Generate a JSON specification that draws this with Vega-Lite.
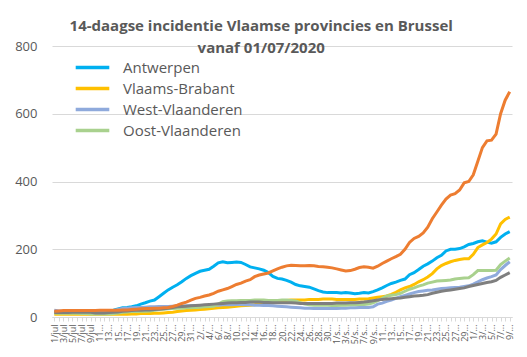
{
  "$schema": "https://vega.github.io/schema/vega-lite/v6.json",
  "width": 460,
  "height": 271,
  "autosize": {"type": "none"},
  "padding": {"left": 52, "top": 46, "right": 15, "bottom": 40},
  "background": "white",
  "title": {
    "text": ["14-daagse incidentie Vlaamse provincies en Brussel", "vanaf 01/07/2020"],
    "anchor": "middle",
    "frame": "bounds",
    "font": "Open Sans",
    "fontSize": 15,
    "fontWeight": "bold",
    "color": "#595959",
    "lineHeight": 22,
    "baseline": "alphabetic",
    "offset": -28,
    "dx": -4
  },
  "data": {
    "values": [
      {"d": "2020-07-01", "Antwerpen": 16, "Vlaams-Brabant": 8, "West-Vlaanderen": 20, "Oost-Vlaanderen": 12, "Limburg": 13, "Brussel": 17},
      {"d": "2020-07-02", "Antwerpen": 16, "Vlaams-Brabant": 8, "West-Vlaanderen": 18, "Oost-Vlaanderen": 11, "Limburg": 13, "Brussel": 18},
      {"d": "2020-07-03", "Antwerpen": 16, "Vlaams-Brabant": 8, "West-Vlaanderen": 16, "Oost-Vlaanderen": 11, "Limburg": 13, "Brussel": 19},
      {"d": "2020-07-04", "Antwerpen": 16, "Vlaams-Brabant": 8, "West-Vlaanderen": 15, "Oost-Vlaanderen": 11, "Limburg": 13, "Brussel": 19},
      {"d": "2020-07-05", "Antwerpen": 15, "Vlaams-Brabant": 8, "West-Vlaanderen": 15, "Oost-Vlaanderen": 11, "Limburg": 14, "Brussel": 19},
      {"d": "2020-07-06", "Antwerpen": 15, "Vlaams-Brabant": 8, "West-Vlaanderen": 15, "Oost-Vlaanderen": 11, "Limburg": 14, "Brussel": 19},
      {"d": "2020-07-07", "Antwerpen": 15, "Vlaams-Brabant": 8, "West-Vlaanderen": 15, "Oost-Vlaanderen": 10, "Limburg": 14, "Brussel": 19},
      {"d": "2020-07-08", "Antwerpen": 15, "Vlaams-Brabant": 8, "West-Vlaanderen": 15, "Oost-Vlaanderen": 10, "Limburg": 14, "Brussel": 19},
      {"d": "2020-07-09", "Antwerpen": 15, "Vlaams-Brabant": 8, "West-Vlaanderen": 15, "Oost-Vlaanderen": 9, "Limburg": 14, "Brussel": 19},
      {"d": "2020-07-10", "Antwerpen": 16, "Vlaams-Brabant": 8, "West-Vlaanderen": 16, "Oost-Vlaanderen": 9, "Limburg": 12, "Brussel": 19},
      {"d": "2020-07-11", "Antwerpen": 16, "Vlaams-Brabant": 8, "West-Vlaanderen": 16, "Oost-Vlaanderen": 9, "Limburg": 12, "Brussel": 20},
      {"d": "2020-07-12", "Antwerpen": 17, "Vlaams-Brabant": 8, "West-Vlaanderen": 16, "Oost-Vlaanderen": 9, "Limburg": 12, "Brussel": 20},
      {"d": "2020-07-13", "Antwerpen": 18, "Vlaams-Brabant": 8, "West-Vlaanderen": 17, "Oost-Vlaanderen": 9, "Limburg": 13, "Brussel": 20},
      {"d": "2020-07-14", "Antwerpen": 20, "Vlaams-Brabant": 8, "West-Vlaanderen": 18, "Oost-Vlaanderen": 10, "Limburg": 14, "Brussel": 20},
      {"d": "2020-07-15", "Antwerpen": 24, "Vlaams-Brabant": 8, "West-Vlaanderen": 22, "Oost-Vlaanderen": 12, "Limburg": 15, "Brussel": 20},
      {"d": "2020-07-16", "Antwerpen": 27, "Vlaams-Brabant": 8, "West-Vlaanderen": 25, "Oost-Vlaanderen": 14, "Limburg": 17, "Brussel": 21},
      {"d": "2020-07-17", "Antwerpen": 28, "Vlaams-Brabant": 8, "West-Vlaanderen": 26, "Oost-Vlaanderen": 15, "Limburg": 18, "Brussel": 21},
      {"d": "2020-07-18", "Antwerpen": 30, "Vlaams-Brabant": 9, "West-Vlaanderen": 27, "Oost-Vlaanderen": 16, "Limburg": 19, "Brussel": 22},
      {"d": "2020-07-19", "Antwerpen": 33, "Vlaams-Brabant": 9, "West-Vlaanderen": 28, "Oost-Vlaanderen": 16, "Limburg": 20, "Brussel": 23},
      {"d": "2020-07-20", "Antwerpen": 38, "Vlaams-Brabant": 10, "West-Vlaanderen": 28, "Oost-Vlaanderen": 17, "Limburg": 20, "Brussel": 24},
      {"d": "2020-07-21", "Antwerpen": 42, "Vlaams-Brabant": 10, "West-Vlaanderen": 29, "Oost-Vlaanderen": 17, "Limburg": 21, "Brussel": 25},
      {"d": "2020-07-22", "Antwerpen": 47, "Vlaams-Brabant": 10, "West-Vlaanderen": 30, "Oost-Vlaanderen": 18, "Limburg": 21, "Brussel": 25},
      {"d": "2020-07-23", "Antwerpen": 50, "Vlaams-Brabant": 11, "West-Vlaanderen": 30, "Oost-Vlaanderen": 20, "Limburg": 22, "Brussel": 26},
      {"d": "2020-07-24", "Antwerpen": 60, "Vlaams-Brabant": 11, "West-Vlaanderen": 31, "Oost-Vlaanderen": 22, "Limburg": 23, "Brussel": 26},
      {"d": "2020-07-25", "Antwerpen": 70, "Vlaams-Brabant": 12, "West-Vlaanderen": 31, "Oost-Vlaanderen": 23, "Limburg": 24, "Brussel": 27},
      {"d": "2020-07-26", "Antwerpen": 80, "Vlaams-Brabant": 13, "West-Vlaanderen": 31, "Oost-Vlaanderen": 24, "Limburg": 26, "Brussel": 28},
      {"d": "2020-07-27", "Antwerpen": 88, "Vlaams-Brabant": 14, "West-Vlaanderen": 32, "Oost-Vlaanderen": 25, "Limburg": 28, "Brussel": 31},
      {"d": "2020-07-28", "Antwerpen": 95, "Vlaams-Brabant": 16, "West-Vlaanderen": 32, "Oost-Vlaanderen": 26, "Limburg": 30, "Brussel": 35},
      {"d": "2020-07-29", "Antwerpen": 104, "Vlaams-Brabant": 18, "West-Vlaanderen": 32, "Oost-Vlaanderen": 26, "Limburg": 31, "Brussel": 40},
      {"d": "2020-07-30", "Antwerpen": 114, "Vlaams-Brabant": 19, "West-Vlaanderen": 33, "Oost-Vlaanderen": 27, "Limburg": 32, "Brussel": 44},
      {"d": "2020-07-31", "Antwerpen": 122, "Vlaams-Brabant": 20, "West-Vlaanderen": 33, "Oost-Vlaanderen": 27, "Limburg": 33, "Brussel": 50},
      {"d": "2020-08-01", "Antwerpen": 129, "Vlaams-Brabant": 21, "West-Vlaanderen": 33, "Oost-Vlaanderen": 28, "Limburg": 34, "Brussel": 55},
      {"d": "2020-08-02", "Antwerpen": 135, "Vlaams-Brabant": 22, "West-Vlaanderen": 34, "Oost-Vlaanderen": 29, "Limburg": 35, "Brussel": 58},
      {"d": "2020-08-03", "Antwerpen": 138, "Vlaams-Brabant": 23, "West-Vlaanderen": 34, "Oost-Vlaanderen": 30, "Limburg": 36, "Brussel": 62},
      {"d": "2020-08-04", "Antwerpen": 141, "Vlaams-Brabant": 24, "West-Vlaanderen": 34, "Oost-Vlaanderen": 31, "Limburg": 37, "Brussel": 65},
      {"d": "2020-08-05", "Antwerpen": 150, "Vlaams-Brabant": 26, "West-Vlaanderen": 35, "Oost-Vlaanderen": 32, "Limburg": 38, "Brussel": 70},
      {"d": "2020-08-06", "Antwerpen": 160, "Vlaams-Brabant": 27, "West-Vlaanderen": 35, "Oost-Vlaanderen": 38, "Limburg": 39, "Brussel": 76},
      {"d": "2020-08-07", "Antwerpen": 163, "Vlaams-Brabant": 28, "West-Vlaanderen": 36, "Oost-Vlaanderen": 45, "Limburg": 40, "Brussel": 80},
      {"d": "2020-08-08", "Antwerpen": 160, "Vlaams-Brabant": 29, "West-Vlaanderen": 36, "Oost-Vlaanderen": 47, "Limburg": 41, "Brussel": 84},
      {"d": "2020-08-09", "Antwerpen": 161, "Vlaams-Brabant": 30, "West-Vlaanderen": 36, "Oost-Vlaanderen": 48, "Limburg": 42, "Brussel": 90},
      {"d": "2020-08-10", "Antwerpen": 162, "Vlaams-Brabant": 32, "West-Vlaanderen": 37, "Oost-Vlaanderen": 48, "Limburg": 42, "Brussel": 96},
      {"d": "2020-08-11", "Antwerpen": 161, "Vlaams-Brabant": 33, "West-Vlaanderen": 37, "Oost-Vlaanderen": 49, "Limburg": 43, "Brussel": 100},
      {"d": "2020-08-12", "Antwerpen": 155, "Vlaams-Brabant": 34, "West-Vlaanderen": 36, "Oost-Vlaanderen": 49, "Limburg": 43, "Brussel": 106},
      {"d": "2020-08-13", "Antwerpen": 148, "Vlaams-Brabant": 35, "West-Vlaanderen": 36, "Oost-Vlaanderen": 49, "Limburg": 44, "Brussel": 110},
      {"d": "2020-08-14", "Antwerpen": 145, "Vlaams-Brabant": 36, "West-Vlaanderen": 35, "Oost-Vlaanderen": 50, "Limburg": 44, "Brussel": 119},
      {"d": "2020-08-15", "Antwerpen": 142, "Vlaams-Brabant": 40, "West-Vlaanderen": 35, "Oost-Vlaanderen": 50, "Limburg": 44, "Brussel": 124},
      {"d": "2020-08-16", "Antwerpen": 138, "Vlaams-Brabant": 45, "West-Vlaanderen": 34, "Oost-Vlaanderen": 50, "Limburg": 43, "Brussel": 127},
      {"d": "2020-08-17", "Antwerpen": 131, "Vlaams-Brabant": 48, "West-Vlaanderen": 34, "Oost-Vlaanderen": 49, "Limburg": 43, "Brussel": 130},
      {"d": "2020-08-18", "Antwerpen": 120, "Vlaams-Brabant": 48, "West-Vlaanderen": 33, "Oost-Vlaanderen": 49, "Limburg": 42, "Brussel": 136},
      {"d": "2020-08-19", "Antwerpen": 114, "Vlaams-Brabant": 48, "West-Vlaanderen": 32, "Oost-Vlaanderen": 49, "Limburg": 42, "Brussel": 142},
      {"d": "2020-08-20", "Antwerpen": 112, "Vlaams-Brabant": 49, "West-Vlaanderen": 31, "Oost-Vlaanderen": 50, "Limburg": 42, "Brussel": 147},
      {"d": "2020-08-21", "Antwerpen": 108, "Vlaams-Brabant": 49, "West-Vlaanderen": 30, "Oost-Vlaanderen": 50, "Limburg": 42, "Brussel": 151},
      {"d": "2020-08-22", "Antwerpen": 103, "Vlaams-Brabant": 50, "West-Vlaanderen": 29, "Oost-Vlaanderen": 49, "Limburg": 42, "Brussel": 153},
      {"d": "2020-08-23", "Antwerpen": 96, "Vlaams-Brabant": 50, "West-Vlaanderen": 28, "Oost-Vlaanderen": 47, "Limburg": 41, "Brussel": 152},
      {"d": "2020-08-24", "Antwerpen": 92, "Vlaams-Brabant": 50, "West-Vlaanderen": 27, "Oost-Vlaanderen": 42, "Limburg": 40, "Brussel": 151},
      {"d": "2020-08-25", "Antwerpen": 90, "Vlaams-Brabant": 50, "West-Vlaanderen": 26, "Oost-Vlaanderen": 38, "Limburg": 40, "Brussel": 151},
      {"d": "2020-08-26", "Antwerpen": 88, "Vlaams-Brabant": 52, "West-Vlaanderen": 26, "Oost-Vlaanderen": 36, "Limburg": 40, "Brussel": 152},
      {"d": "2020-08-27", "Antwerpen": 83, "Vlaams-Brabant": 52, "West-Vlaanderen": 25, "Oost-Vlaanderen": 35, "Limburg": 40, "Brussel": 151},
      {"d": "2020-08-28", "Antwerpen": 78, "Vlaams-Brabant": 52, "West-Vlaanderen": 25, "Oost-Vlaanderen": 35, "Limburg": 40, "Brussel": 149},
      {"d": "2020-08-29", "Antwerpen": 74, "Vlaams-Brabant": 53, "West-Vlaanderen": 25, "Oost-Vlaanderen": 35, "Limburg": 40, "Brussel": 148},
      {"d": "2020-08-30", "Antwerpen": 72, "Vlaams-Brabant": 53, "West-Vlaanderen": 25, "Oost-Vlaanderen": 35, "Limburg": 40, "Brussel": 147},
      {"d": "2020-08-31", "Antwerpen": 72, "Vlaams-Brabant": 53, "West-Vlaanderen": 25, "Oost-Vlaanderen": 34, "Limburg": 40, "Brussel": 145},
      {"d": "2020-09-01", "Antwerpen": 72, "Vlaams-Brabant": 52, "West-Vlaanderen": 25, "Oost-Vlaanderen": 34, "Limburg": 41, "Brussel": 142},
      {"d": "2020-09-02", "Antwerpen": 71, "Vlaams-Brabant": 52, "West-Vlaanderen": 26, "Oost-Vlaanderen": 35, "Limburg": 41, "Brussel": 139},
      {"d": "2020-09-03", "Antwerpen": 72, "Vlaams-Brabant": 52, "West-Vlaanderen": 26, "Oost-Vlaanderen": 35, "Limburg": 41, "Brussel": 136},
      {"d": "2020-09-04", "Antwerpen": 71, "Vlaams-Brabant": 52, "West-Vlaanderen": 27, "Oost-Vlaanderen": 36, "Limburg": 42, "Brussel": 137},
      {"d": "2020-09-05", "Antwerpen": 69, "Vlaams-Brabant": 52, "West-Vlaanderen": 27, "Oost-Vlaanderen": 36, "Limburg": 42, "Brussel": 141},
      {"d": "2020-09-06", "Antwerpen": 70, "Vlaams-Brabant": 53, "West-Vlaanderen": 28, "Oost-Vlaanderen": 37, "Limburg": 43, "Brussel": 146},
      {"d": "2020-09-07", "Antwerpen": 72, "Vlaams-Brabant": 53, "West-Vlaanderen": 28, "Oost-Vlaanderen": 37, "Limburg": 44, "Brussel": 148},
      {"d": "2020-09-08", "Antwerpen": 71, "Vlaams-Brabant": 54, "West-Vlaanderen": 28, "Oost-Vlaanderen": 38, "Limburg": 46, "Brussel": 147},
      {"d": "2020-09-09", "Antwerpen": 75, "Vlaams-Brabant": 56, "West-Vlaanderen": 30, "Oost-Vlaanderen": 42, "Limburg": 48, "Brussel": 144},
      {"d": "2020-09-10", "Antwerpen": 80, "Vlaams-Brabant": 58, "West-Vlaanderen": 38, "Oost-Vlaanderen": 48, "Limburg": 50, "Brussel": 150},
      {"d": "2020-09-11", "Antwerpen": 86, "Vlaams-Brabant": 60, "West-Vlaanderen": 41, "Oost-Vlaanderen": 55, "Limburg": 52, "Brussel": 158},
      {"d": "2020-09-12", "Antwerpen": 93, "Vlaams-Brabant": 62, "West-Vlaanderen": 46, "Oost-Vlaanderen": 62, "Limburg": 53, "Brussel": 165},
      {"d": "2020-09-13", "Antwerpen": 99, "Vlaams-Brabant": 67, "West-Vlaanderen": 50, "Oost-Vlaanderen": 64, "Limburg": 54, "Brussel": 172},
      {"d": "2020-09-14", "Antwerpen": 103, "Vlaams-Brabant": 73, "West-Vlaanderen": 55, "Oost-Vlaanderen": 66, "Limburg": 55, "Brussel": 178},
      {"d": "2020-09-15", "Antwerpen": 108, "Vlaams-Brabant": 80, "West-Vlaanderen": 60, "Oost-Vlaanderen": 70, "Limburg": 56, "Brussel": 185},
      {"d": "2020-09-16", "Antwerpen": 112, "Vlaams-Brabant": 86, "West-Vlaanderen": 64, "Oost-Vlaanderen": 76, "Limburg": 58, "Brussel": 200},
      {"d": "2020-09-17", "Antwerpen": 125, "Vlaams-Brabant": 90, "West-Vlaanderen": 68, "Oost-Vlaanderen": 82, "Limburg": 60, "Brussel": 220},
      {"d": "2020-09-18", "Antwerpen": 131, "Vlaams-Brabant": 96, "West-Vlaanderen": 72, "Oost-Vlaanderen": 86, "Limburg": 62, "Brussel": 232},
      {"d": "2020-09-19", "Antwerpen": 140, "Vlaams-Brabant": 104, "West-Vlaanderen": 75, "Oost-Vlaanderen": 91, "Limburg": 63, "Brussel": 238},
      {"d": "2020-09-20", "Antwerpen": 150, "Vlaams-Brabant": 110, "West-Vlaanderen": 77, "Oost-Vlaanderen": 95, "Limburg": 64, "Brussel": 248},
      {"d": "2020-09-21", "Antwerpen": 157, "Vlaams-Brabant": 118, "West-Vlaanderen": 79, "Oost-Vlaanderen": 100, "Limburg": 66, "Brussel": 265},
      {"d": "2020-09-22", "Antwerpen": 165, "Vlaams-Brabant": 128, "West-Vlaanderen": 80, "Oost-Vlaanderen": 103, "Limburg": 70, "Brussel": 290},
      {"d": "2020-09-23", "Antwerpen": 175, "Vlaams-Brabant": 142, "West-Vlaanderen": 82, "Oost-Vlaanderen": 106, "Limburg": 73, "Brussel": 310},
      {"d": "2020-09-24", "Antwerpen": 182, "Vlaams-Brabant": 152, "West-Vlaanderen": 84, "Oost-Vlaanderen": 107, "Limburg": 76, "Brussel": 330},
      {"d": "2020-09-25", "Antwerpen": 195, "Vlaams-Brabant": 158, "West-Vlaanderen": 85, "Oost-Vlaanderen": 108, "Limburg": 78, "Brussel": 348},
      {"d": "2020-09-26", "Antwerpen": 200, "Vlaams-Brabant": 163, "West-Vlaanderen": 86, "Oost-Vlaanderen": 109, "Limburg": 80, "Brussel": 360},
      {"d": "2020-09-27", "Antwerpen": 200, "Vlaams-Brabant": 167, "West-Vlaanderen": 87, "Oost-Vlaanderen": 112, "Limburg": 82, "Brussel": 364},
      {"d": "2020-09-28", "Antwerpen": 202, "Vlaams-Brabant": 170, "West-Vlaanderen": 88, "Oost-Vlaanderen": 114, "Limburg": 84, "Brussel": 375},
      {"d": "2020-09-29", "Antwerpen": 207, "Vlaams-Brabant": 172, "West-Vlaanderen": 90, "Oost-Vlaanderen": 115, "Limburg": 86, "Brussel": 396},
      {"d": "2020-09-30", "Antwerpen": 214, "Vlaams-Brabant": 172, "West-Vlaanderen": 92, "Oost-Vlaanderen": 116, "Limburg": 90, "Brussel": 400},
      {"d": "2020-10-01", "Antwerpen": 217, "Vlaams-Brabant": 185, "West-Vlaanderen": 97, "Oost-Vlaanderen": 125, "Limburg": 93, "Brussel": 420},
      {"d": "2020-10-02", "Antwerpen": 222, "Vlaams-Brabant": 205, "West-Vlaanderen": 104, "Oost-Vlaanderen": 137, "Limburg": 96, "Brussel": 460},
      {"d": "2020-10-03", "Antwerpen": 225, "Vlaams-Brabant": 213, "West-Vlaanderen": 110, "Oost-Vlaanderen": 137, "Limburg": 99, "Brussel": 500},
      {"d": "2020-10-04", "Antwerpen": 221, "Vlaams-Brabant": 220, "West-Vlaanderen": 115, "Oost-Vlaanderen": 137, "Limburg": 102, "Brussel": 520},
      {"d": "2020-10-05", "Antwerpen": 218, "Vlaams-Brabant": 230, "West-Vlaanderen": 119, "Oost-Vlaanderen": 137, "Limburg": 104, "Brussel": 522},
      {"d": "2020-10-06", "Antwerpen": 222, "Vlaams-Brabant": 245, "West-Vlaanderen": 124, "Oost-Vlaanderen": 138, "Limburg": 108, "Brussel": 540},
      {"d": "2020-10-07", "Antwerpen": 235, "Vlaams-Brabant": 275, "West-Vlaanderen": 140, "Oost-Vlaanderen": 155, "Limburg": 117, "Brussel": 600},
      {"d": "2020-10-08", "Antwerpen": 245, "Vlaams-Brabant": 288, "West-Vlaanderen": 152, "Oost-Vlaanderen": 165, "Limburg": 124, "Brussel": 640},
      {"d": "2020-10-09", "Antwerpen": 252, "Vlaams-Brabant": 295, "West-Vlaanderen": 163, "Oost-Vlaanderen": 174, "Limburg": 131, "Brussel": 665}
    ]
  },
  "transform": [
    {"fold": ["Antwerpen", "Vlaams-Brabant", "West-Vlaanderen", "Oost-Vlaanderen", "Limburg", "Brussel"], "as": ["p", "v"]}
  ],
  "mark": {"type": "line", "strokeWidth": 3},
  "encoding": {
    "x": {
      "field": "d",
      "type": "ordinal",
      "scale": {"type": "point", "padding": 0.5},
      "axis": {
        "title": null,
        "labelAngle": 270,
        "labelFont": "Open Sans",
        "labelFontSize": 9,
        "labelColor": "#595959",
        "labelLimit": 20,
        "labelPadding": 3,
        "labelOverlap": false,
        "domainColor": "#D9D9D9",
        "tickColor": "#D9D9D9",
        "tickSize": 4,
        "labelExpr": "(round((toDate(datum.value) - toDate('2020-07-01')) / 86400000) % 2 == 0) ? (utcdate(toDate(datum.value)) + '/' + ['jan','feb','mrt','apr','mei','jun','jul','aug','sep','okt','nov','dec'][utcmonth(toDate(datum.value))]) : ''"
      }
    },
    "y": {
      "field": "v",
      "type": "quantitative",
      "scale": {"domain": [0, 800]},
      "axis": {
        "title": null,
        "values": [0, 200, 400, 600, 800],
        "grid": true,
        "gridColor": "#D9D9D9",
        "domain": false,
        "ticks": false,
        "labelFont": "Open Sans",
        "labelFontSize": 13,
        "labelColor": "#595959",
        "labelPadding": 15
      }
    },
    "color": {
      "field": "p",
      "type": "nominal",
      "scale": {
        "domain": ["Antwerpen", "Vlaams-Brabant", "West-Vlaanderen", "Oost-Vlaanderen", "Limburg", "Brussel"],
        "range": ["#00B0F0", "#FFC000", "#8FAADC", "#A9D18E", "#7F7F7F", "#ED7D31"]
      },
      "legend": {
        "values": ["Antwerpen", "Vlaams-Brabant", "West-Vlaanderen", "Oost-Vlaanderen"],
        "orient": "none",
        "legendX": 28,
        "legendY": 9,
        "title": null,
        "padding": 0,
        "symbolType": "M-1.6,0H1.6",
        "symbolSize": 441,
        "symbolStrokeWidth": 3.5,
        "labelFont": "Open Sans",
        "labelFontSize": 15,
        "labelColor": "#595959",
        "labelOffset": 18,
        "rowPadding": 0
      }
    }
  },
  "config": {"view": {"stroke": null}, "font": "Open Sans"}
}
